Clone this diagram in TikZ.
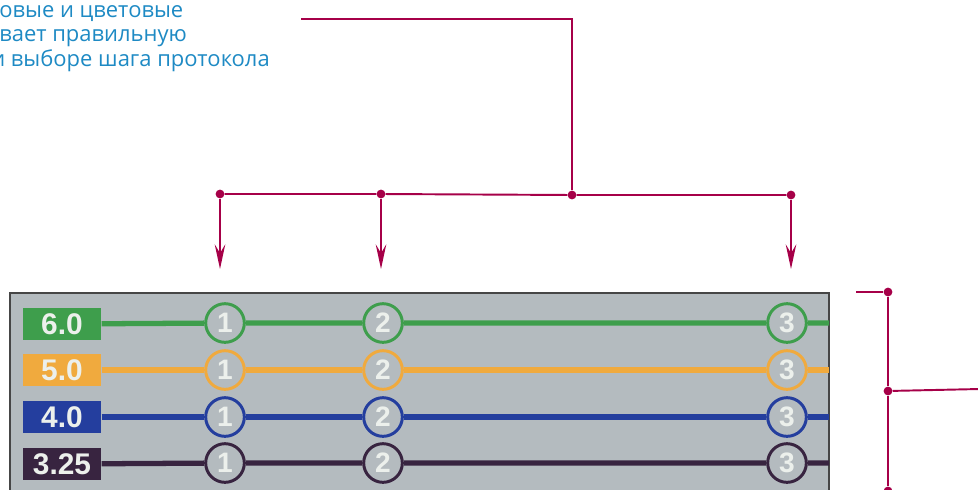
\documentclass[tikz,border=0pt]{standalone}
\usepackage{fontspec}
\setmainfont{Open Sans}
\newfontfamily\digitfont{Liberation Sans}
\usetikzlibrary{arrows.meta}

\definecolor{mag}{RGB}{166,0,72}
\definecolor{noteblue}{RGB}{30,138,196}
\definecolor{panelgray}{RGB}{180,187,191}
\definecolor{rowgreen}{RGB}{62,158,76}
\definecolor{roworange}{RGB}{240,170,62}
\definecolor{rowblue}{RGB}{36,62,158}
\definecolor{rowdark}{RGB}{56,36,64}

\begin{document}
\begin{tikzpicture}[x=0.02cm,y=-0.02cm,
	note/.style={anchor=base west,inner sep=0,text=noteblue,font=\fontsize{12.5}{14}\selectfont},
	link/.style={draw=mag,line width=1.1pt},
	dot/.style={circle,fill=mag,inner sep=0,minimum size=5pt},
	arr/.style={link,-{Stealth[length=14pt,width=6pt,inset=5pt]}},
	lab/.style={fill=#1,minimum width=44.8pt,minimum height=18pt,inner sep=0,
		text={rgb,255:red,236;green,240;blue,236},font=\digitfont\bfseries\fontsize{17}{17}\selectfont},
	stepcirc/.style={circle,draw=#1,line width=1.7pt,fill=panelgray,minimum size=22pt,inner sep=0,
		text={rgb,255:red,236;green,240;blue,236},font=\digitfont\bfseries\fontsize{16}{16}\selectfont},
	row/.style={draw=#1,line width=3pt}]
	\useasboundingbox (0,0) rectangle (978,490);
	%\draw[help lines,step=50] (0,0) grid (978,490);

	% note text
	\node[note] (n1) at (-1,17) {овые и цветовые};
	\node[note] (n2) at (-1,41) {вает правильную};
	\node[note] (n3) at (-9,66) {и выборе шага протокола};

	% panel
	\draw[fill=panelgray,draw={rgb,255:red,70;green,70;blue,70},line width=0.6pt] (10,293) rectangle (829,500);

	% rows
	\node[lab=rowgreen] (l1) at (62,324) {6.0};
	\node[stepcirc=rowgreen] (g1) at (225,323) {1};
	\node[stepcirc=rowgreen] (g2) at (383,323) {2};
	\node[stepcirc=rowgreen] (g3) at (787,323) {3};
	\coordinate (e1) at (829,323);
	\draw[row=rowgreen] (l1) -- (g1) -- (g2) -- (g3) -- (e1);

	\node[lab=roworange] (l2) at (62,370) {5.0};
	\node[stepcirc=roworange] (o1) at (225,370) {1};
	\node[stepcirc=roworange] (o2) at (383,370) {2};
	\node[stepcirc=roworange] (o3) at (787,370) {3};
	\coordinate (e2) at (829,370);
	\draw[row=roworange] (l2) -- (o1) -- (o2) -- (o3) -- (e2);

	\node[lab=rowblue] (l3) at (62,417) {4.0};
	\node[stepcirc=rowblue] (b1) at (225,417) {1};
	\node[stepcirc=rowblue] (b2) at (383,417) {2};
	\node[stepcirc=rowblue] (b3) at (787,417) {3};
	\coordinate (e3) at (829,417);
	\draw[row=rowblue] (l3) -- (b1) -- (b2) -- (b3) -- (e3);

	\node[lab=rowdark] (l4) at (62,464) {3.25};
	\node[stepcirc=rowdark] (k1) at (225,463) {1};
	\node[stepcirc=rowdark] (k2) at (383,463) {2};
	\node[stepcirc=rowdark] (k3) at (787,463) {3};
	\coordinate (e4) at (829,463);
	\draw[row=rowdark] (l4) -- (k1) -- (k2) -- (k3) -- (e4);

	% callout from the note
	\coordinate (a1) at (301,19);
	\coordinate (a2) at (572,19);
	\node[dot] (d1) at (220,194) {};
	\node[dot] (d2) at (381,194) {};
	\node[dot] (d3) at (572,195) {};
	\node[dot] (d4) at (791,195) {};
	\draw[link] (a1) -- (a2) -- (d3);
	\draw[link] (d1) -- (d2) -- (d3) -- (d4);
	\coordinate (t1) at (220,269);
	\coordinate (t2) at (381,269);
	\coordinate (t4) at (791,269);
	\draw[arr] (d1) -- (t1);
	\draw[arr] (d2) -- (t2);
	\draw[arr] (d4) -- (t4);

	% bracket on the right
	\coordinate (r0) at (856,292);
	\node[dot] (r1) at (888,292) {};
	\node[dot] (r2) at (888,391) {};
	\node[dot] (r3) at (888,491) {};
	\coordinate (r4) at (980,389);
	\draw[link] (r0) -- (r1) -- (r2) -- (r3);
	\draw[link] (r2) -- (r4);
\end{tikzpicture}
\end{document}
